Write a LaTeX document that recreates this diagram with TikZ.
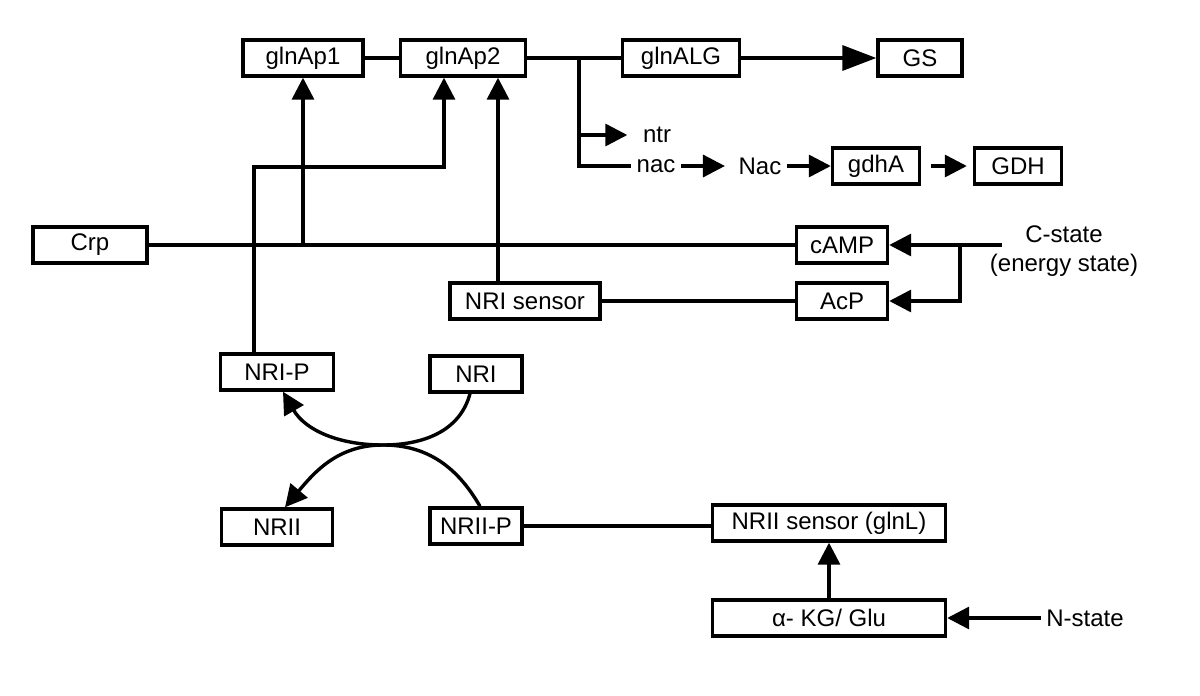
\documentclass[tikz,border=0pt]{standalone}
\usepackage{fontspec}
\setmainfont{Liberation Sans}
\usetikzlibrary{arrows.meta,calc}

\begin{document}
\begin{tikzpicture}[x=0.5pt,y=-0.5pt,line width=1.7pt,
  box/.style={draw,line width=1.7pt,minimum height=18pt,inner sep=0pt,font=\fontsize{12}{14.5}\selectfont},
  lbl/.style={inner sep=2pt,font=\fontsize{12}{14.5}\selectfont},
  arr/.style={-{Triangle[length=11pt,width=11pt]}},
  bigarr/.style={-{Triangle[length=17pt,width=12.5pt]}}]
\useasboundingbox (0,0) rectangle (1200,696);

% operon row
\node[box,minimum width=60pt] (p1) at (303,58) {glnAp1};
\node[box,minimum width=62.5pt] (p2) at (463,58) {glnAp2};
\node[box,minimum width=58.5pt] (alg) at (681,58) {glnALG};
\node[box,minimum width=42pt] (gs) at (920,58) {GS};

\node[lbl] (ntr) at (657,135) {ntr};
\node[lbl] (nac) at (656,166) {nac};
\node[lbl] (Nac) at (760,166) {Nac};
\node[box,minimum width=43.5pt] (gdha) at (876,166) {gdhA};
\node[box,minimum width=43.5pt] (gdh) at (1018,166) {GDH};

\node[box,minimum width=57pt] (crp) at (90,245) {Crp};
\node[box,minimum width=45.5pt] (camp) at (842,245) {cAMP};
\node[lbl,align=center] (cstate) at (1064,251) {C-state\\(energy state)};
\node[box,minimum width=75pt] (sensor) at (525,301) {NRI sensor};
\node[box,minimum width=45.5pt] (acp) at (842,301) {AcP};

\node[box,minimum width=56.5pt] (nrip) at (277,372) {NRI-P};
\node[box,minimum width=46pt] (nri) at (476,374) {NRI};
\node[box,minimum width=55.5pt] (nrii) at (277,527) {NRII};
\node[box,minimum width=46pt] (nriip) at (476,526) {NRII-P};
\node[box,minimum width=116.5pt] (glnl) at (829,523) {NRII sensor (glnL)};
\node[box,minimum width=116.5pt] (kg) at (829,618) {α- KG/ Glu};
\node[lbl] (nstate) at (1085,618) {N-state};

\coordinate (br) at (579,58);
\coordinate (k) at (444,167);
\coordinate (mid) at (383,445);
\coordinate (cin) at (1002,245);
\coordinate (cbr) at (960,245);

\draw (p1) -- (p2);
\draw (p2) -- (alg);
\draw[bigarr] (alg) -- (gs);
\draw[arr] (br) |- ([xshift=-5pt]ntr.west);
\draw (br) |- (nac.west);
\draw[arr] (nac.east) -- ([xshift=-4pt]Nac.west);
\draw[arr] (Nac) -- (gdha);
\draw[arr] ([xshift=5pt]gdha.east) -- ([xshift=-3pt]gdh.west);

\draw (crp) -- (camp);
\draw[arr] (p1 |- crp) -- (p1);
\draw[arr] ([xshift=-13.5pt]sensor.north) -- ([xshift=-13.5pt]sensor.north |- p2.south);
\draw[arr] ([xshift=-11.5pt]nrip.north) |- (k) -- (k |- p2.south);
\draw (sensor) -- (acp);
\draw[arr] (cin) -- (camp);
\draw[arr] (cbr) |- (acp);

% phosphorylation cycle
\draw[arr] ([xshift=-3pt]nri.south) to[out=-105,in=0] (mid) to[out=180,in=-60] ([xshift=3pt]nrip.south);
\draw[arr] ([xshift=2pt]nriip.north) to[out=120,in=0] (mid) to[out=180,in=50] ([xshift=4pt]nrii.north);

\draw (nriip.east) -- (nriip.east -| glnl.west);
\draw[arr] (kg) -- (glnl);
\draw[arr] (nstate) -- (kg);
\end{tikzpicture}
\end{document}
